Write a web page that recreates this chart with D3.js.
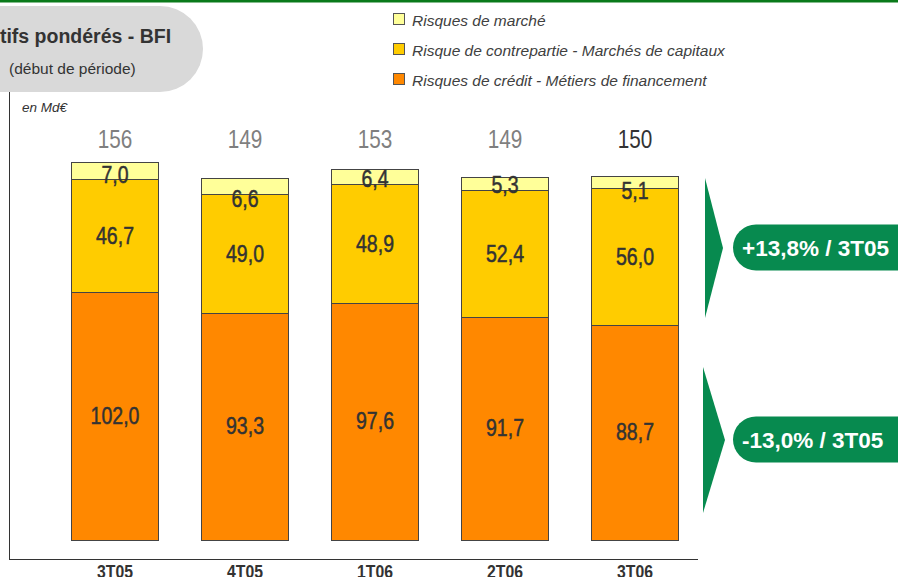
<!DOCTYPE html>
<html>
<head>
<meta charset="utf-8">
<script src="https://cdn.jsdelivr.net/npm/d3@7"></script>
<style>
  body { margin: 0; background: #fff; }
  svg { display: block; }
</style>
</head>
<body>
<svg id="chart" width="898" height="577"></svg>
<script>
// Données (en Md€)
const categories = ["3T05", "4T05", "1T06", "2T06", "3T06"];
const marche = [7.0, 6.6, 6.4, 5.3, 5.1];
const contrepartie = [46.7, 49.0, 48.9, 52.4, 56.0];
const credit = [102.0, 93.3, 97.6, 91.7, 88.7];
const totals = [156, 149, 153, 149, 150];
const seriesNames = ["Risques de crédit - Métiers de financement", "Risque de contrepartie - Marchés de capitaux", "Risques de marché"];
const colors = ["#ff8800", "#ffcc00", "#ffff99"];
const evolutions = ["+13,8% / 3T05", "-13,0% / 3T05"];

const svg = d3.select("#chart");
const fmt = v => d3.format(".1f")(v).replace(".", ",");
const font = "Liberation Sans, Arial, sans-serif";
// Pas de police étroite installée : on compresse horizontalement
const narrow = 0.83;

// Bandeau vert en haut
svg.append("rect").attr("x", 0).attr("y", 0).attr("width", 898).attr("height", 2.5).attr("fill", "#0a7a1a");

// Cartouche du titre
svg.append("rect")
  .attr("x", -60).attr("y", 6).attr("width", 263).attr("height", 86)
  .attr("rx", 43).attr("fill", "#d9d9d9");
svg.append("text")
  .attr("x", -25).attr("y", 43)
  .attr("font-family", font)
  .attr("font-size", 19.5).attr("font-weight", "bold").attr("fill", "#333")
  .text("Actifs pondérés - BFI");
svg.append("text")
  .attr("x", 9).attr("y", 74)
  .attr("font-family", font)
  .attr("font-size", 15.5).attr("fill", "#333")
  .text("(début de période)");

svg.append("text")
  .attr("x", 22).attr("y", 112)
  .attr("font-family", font)
  .attr("font-size", 13.5).attr("font-style", "italic").attr("fill", "#333")
  .text("en Md€");

// Légende
const legend = svg.append("g");
[2, 1, 0].forEach((k, i) => {
  const yy = 20 + i * 30;
  legend.append("rect")
    .attr("x", 393.5).attr("y", yy - 6.5).attr("width", 11).attr("height", 11)
    .attr("fill", colors[k]).attr("stroke", "#555").attr("stroke-width", 1);
  legend.append("text")
    .attr("x", 412).attr("y", yy + 5.5)
    .attr("font-family", font)
    .attr("font-size", 15.5).attr("font-style", "italic").attr("fill", "#404040")
    .text(seriesNames[k]);
});

// Échelles
const x = d3.scaleBand()
  .domain(categories)
  .range([50, 700])
  .paddingInner(0.33)
  .paddingOuter(0.165);
const y = d3.scaleLinear()
  .domain([0, 156])
  .range([540, 161]);

const table = categories.map((c, i) => ({ cat: c, credit: credit[i], contrepartie: contrepartie[i], marche: marche[i] }));
const stack = d3.stack().keys(["credit", "contrepartie", "marche"])(table);

// Axes (lignes seules)
svg.append("line").attr("x1", 9.5).attr("x2", 9.5).attr("y1", 92).attr("y2", 559.5).attr("stroke", "#333");
svg.append("line").attr("x1", 9).attr("x2", 698).attr("y1", 559.5).attr("y2", 559.5).attr("stroke", "#333");

// Barres
const layers = svg.append("g").selectAll("g")
  .data(stack)
  .join("g")
  .attr("fill", (d, i) => colors[i]);

layers.selectAll("rect")
  .data(d => d)
  .join("rect")
  .attr("x", d => Math.round(x(d.data.cat)) + 0.5)
  .attr("y", d => Math.round(y(d[1])) + 0.5)
  .attr("width", Math.round(x.bandwidth()))
  .attr("height", d => Math.round(y(d[0])) - Math.round(y(d[1])))
  .attr("stroke", "#444")
  .attr("stroke-width", 1);

// Texte étroit centré en (cx, cy)
function narrowText(g, cx, cy, txt, size, weight, color, thick) {
  g.append("text")
    .attr("transform", `translate(${cx},${cy}) scale(${narrow},1)`)
    .attr("text-anchor", "middle")
    .attr("font-family", font)
    .attr("font-size", size)
    .attr("font-weight", weight)
    .attr("fill", color)
    .attr("stroke", thick ? color : "none")
    .attr("stroke-width", 0.5)
    .text(txt);
}

// Étiquettes des valeurs (décalage vertical par couche / par barre pour le marché)
const marketShift = [0, 8, -2, -3, 4];
const labels = svg.append("g");
stack.forEach((layer, li) => {
  layer.forEach((d, i) => {
    const cx = x(d.data.cat) + x.bandwidth() / 2;
    let cy = (y(d[0]) + y(d[1])) / 2 + 8.5;
    if (li === 2) cy += 4 + marketShift[i];
    if (li === 0) cy -= 1;
    narrowText(labels, cx, cy, fmt(d[1] - d[0]), 23.5, "normal", "#333", true);
  });
});

// Totaux
const tot = svg.append("g");
categories.forEach((c, i) => {
  narrowText(tot, x(c) + x.bandwidth() / 2, 148, totals[i], 25,
    "normal", i === categories.length - 1 ? "#333" : "#7f7f7f", false);
});

// Libellés des catégories
const cats = svg.append("g");
categories.forEach(c => {
  narrowText(cats, x(c) + x.bandwidth() / 2, 578, c, 19, "bold", "#333", false);
});

// Flèches d'évolution
const green = "#078a4f";
const arrows = [
  { top: 178, bottom: 318, base: 705, tip: 723, label: evolutions[0] },
  { top: 367, bottom: 513, base: 703, tip: 725, label: evolutions[1] }
];
arrows.forEach(a => {
  const mid = (a.top + a.bottom) / 2;
  svg.append("path")
    .attr("d", `M${a.base},${a.top} L${a.tip},${mid} L${a.base},${a.bottom} Z`)
    .attr("fill", green);
  svg.append("rect")
    .attr("x", 733).attr("y", mid - 23.5).attr("width", 200).attr("height", 46)
    .attr("rx", 23).attr("fill", green);
  svg.append("text")
    .attr("x", 742).attr("y", mid + 8)
    .attr("font-family", font)
    .attr("font-size", 22.5).attr("font-weight", "bold").attr("fill", "#fff")
    .text(a.label);
});
</script>
</body>
</html>
